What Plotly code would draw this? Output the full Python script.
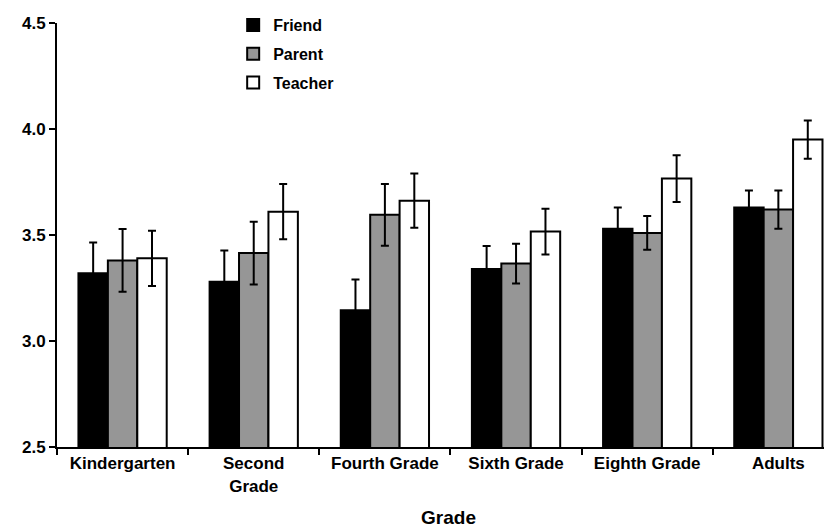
import plotly.graph_objects as go

grades = ["Kindergarten", "Second<br>Grade", "Fourth Grade", "Sixth Grade", "Eighth Grade", "Adults"]
friend = [3.32, 3.28, 3.145, 3.34, 3.53, 3.63]
friend_err = [0.145, 0.147, 0.145, 0.108, 0.10, 0.08]
parent = [3.38, 3.415, 3.595, 3.365, 3.51, 3.62]
parent_err = [0.148, 0.148, 0.146, 0.094, 0.08, 0.09]
teacher = [3.39, 3.61, 3.662, 3.516, 3.766, 3.95]
teacher_err = [0.13, 0.13, 0.128, 0.108, 0.11, 0.09]

series = [
    ("Friend", friend, friend_err, "#000000"),
    ("Parent", parent, parent_err, "#969696"),
    ("Teacher", teacher, teacher_err, "#ffffff"),
]

fig = go.Figure()
for i, (name, vals, errs, color) in enumerate(series):
    fig.add_trace(go.Bar(
        name=name, x=grades, y=vals, legendgroup=name,
        marker=dict(color=color, line=dict(color="#000000", width=2)),
        error_y=dict(type="data", array=errs, visible=True, color="#000000",
                     thickness=2, width=4),
    ))

font_family = "Arial, Liberation Sans, sans-serif"
fig.update_layout(
    width=832, height=531,
    margin=dict(l=49, r=0, t=14, b=92),
    paper_bgcolor="white", plot_bgcolor="white",
    barmode="group", bargap=0.327, bargroupgap=0,
    font=dict(family=font_family, size=17, color="#000000"),
    showlegend=True,
    legend=dict(x=0.225, y=1.035, xanchor="left", yanchor="top",
                bgcolor="rgba(0,0,0,0)", tracegroupgap=5,
                font=dict(size=16, family=font_family, weight="bold")),
    xaxis=dict(
        type="category", range=[-0.5, 5.47],
        showline=True, linecolor="#000000", linewidth=2,
        ticks="outside", tickson="boundaries", ticklen=6, tickwidth=2, tickcolor="#000000",
        tickfont=dict(size=17, family=font_family, weight="bold"),
        title=dict(text="<b>Grade</b>", font=dict(size=19, family=font_family), standoff=16),
        showgrid=False, zeroline=False,
    ),
    yaxis=dict(
        range=[2.5, 4.5], tickvals=[2.5, 3.0, 3.5, 4.0, 4.5],
        ticktext=["2.5", "3.0", "3.5", "4.0", "4.5"],
        showline=True, linecolor="#000000", linewidth=2,
        ticks="outside", ticklen=6, tickwidth=2, tickcolor="#000000",
        tickfont=dict(size=17, family=font_family, weight="bold"),
        showgrid=False, zeroline=False,
    ),
)

fig.write_html("out.html")
